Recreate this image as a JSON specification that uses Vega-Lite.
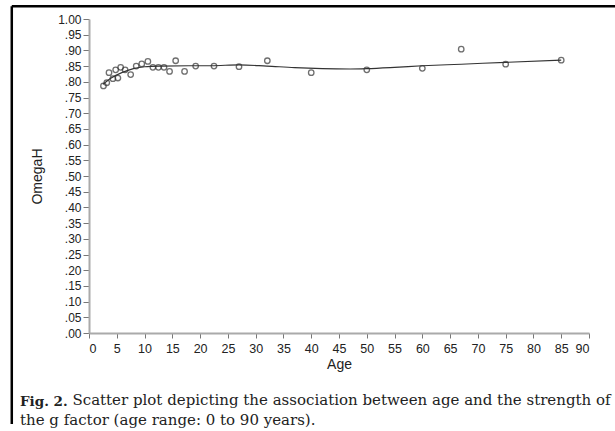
{
  "$schema": "https://vega.github.io/schema/vega-lite/v6.json",
  "width": 500,
  "height": 314,
  "autosize": {"type": "none"},
  "padding": {"left": 89, "top": 19, "right": 26, "bottom": 98},
  "background": "white",
  "config": {"view": {"stroke": null}},
  "title": {
    "text": "Fig. 2.",
    "subtitle": ["\u200b\u00a0\u00a0\u00a0\u00a0\u00a0\u00a0\u00a0\u00a0\u00a0\u00a0\u00a0Scatter plot depicting the association between age and the strength of", "the g factor (age range: 0 to 90 years)."],
    "orient": "bottom",
    "anchor": "start",
    "frame": "group",
    "dx": -69,
    "offset": -30,
    "font": "DejaVu Serif",
    "fontSize": 13.5,
    "fontWeight": "bold",
    "color": "#222",
    "subtitleFont": "DejaVu Serif",
    "subtitleFontSize": 15,
    "subtitleColor": "#222",
    "subtitlePadding": -16,
    "subtitleLineHeight": 20
  },
  "datasets": {
    "pts": [
      {"age": 2.6, "omega": 0.787},
      {"age": 3.2, "omega": 0.797},
      {"age": 3.6, "omega": 0.829},
      {"age": 4.3, "omega": 0.81},
      {"age": 4.8, "omega": 0.838},
      {"age": 5.2, "omega": 0.812},
      {"age": 5.7, "omega": 0.846},
      {"age": 6.5, "omega": 0.838},
      {"age": 7.5, "omega": 0.823},
      {"age": 8.5, "omega": 0.85},
      {"age": 9.5, "omega": 0.857},
      {"age": 10.6, "omega": 0.865},
      {"age": 11.5, "omega": 0.846},
      {"age": 12.5, "omega": 0.846},
      {"age": 13.5, "omega": 0.846},
      {"age": 14.5, "omega": 0.833},
      {"age": 15.6, "omega": 0.867},
      {"age": 17.2, "omega": 0.833},
      {"age": 19.2, "omega": 0.85},
      {"age": 22.5, "omega": 0.85},
      {"age": 27.0, "omega": 0.848},
      {"age": 32.1, "omega": 0.867},
      {"age": 40, "omega": 0.829},
      {"age": 50, "omega": 0.838},
      {"age": 60, "omega": 0.843},
      {"age": 67, "omega": 0.904},
      {"age": 75, "omega": 0.856},
      {"age": 85, "omega": 0.869}
    ],
    "fit": [
      {"age": 2.5, "omega": 0.792},
      {"age": 4, "omega": 0.812},
      {"age": 6, "omega": 0.83},
      {"age": 8, "omega": 0.842},
      {"age": 10, "omega": 0.848},
      {"age": 13, "omega": 0.85},
      {"age": 18, "omega": 0.851},
      {"age": 22, "omega": 0.851},
      {"age": 27, "omega": 0.854},
      {"age": 32, "omega": 0.85},
      {"age": 37, "omega": 0.845},
      {"age": 42, "omega": 0.842},
      {"age": 47, "omega": 0.841},
      {"age": 50, "omega": 0.842},
      {"age": 55, "omega": 0.846},
      {"age": 60, "omega": 0.851},
      {"age": 67, "omega": 0.856},
      {"age": 75, "omega": 0.862},
      {"age": 85, "omega": 0.869}
    ],
    "frame": [
      {"x1": -13.9, "x2": 95.5, "y1": 1.041, "y2": -0.29}
    ]
  },
  "encoding": {
    "x": {
      "field": "age", "type": "quantitative",
      "scale": {"domain": [0, 90], "nice": false, "zero": false},
      "axis": {
        "values": [0,5,10,15,20,25,30,35,40,45,50,55,60,65,70,75,80,85,90],
        "labelOverlap": false,
        "title": "Age", "grid": false,
        "labelFont": "Liberation Sans", "labelFontSize": 12.5, "labelColor": "#222",
        "labelPadding": 4,
        "titleFont": "Liberation Sans", "titleFontSize": 14, "titleFontWeight": "normal", "titleColor": "#222",
        "titlePadding": 3,
        "domainColor": "#aaa", "domainWidth": 2,
        "tickColor": "#777", "tickSize": 5, "tickWidth": 1
      }
    },
    "y": {
      "field": "omega", "type": "quantitative",
      "scale": {"domain": [0, 1], "nice": false, "zero": false},
      "axis": {
        "values": [0,0.05,0.1,0.15,0.2,0.25,0.3,0.35,0.4,0.45,0.5,0.55,0.6,0.65,0.7,0.75,0.8,0.85,0.9,0.95,1],
        "labelOverlap": false,
        "labelExpr": "datum.value >= 0.999 ? '1.00' : replace(format(datum.value, '.2f'), '0.', '.')",
        "title": "OmegaH", "grid": false,
        "labelFont": "Liberation Sans", "labelFontSize": 12, "labelColor": "#222",
        "labelPadding": 2,
        "titleFont": "Liberation Sans", "titleFontSize": 14, "titleFontWeight": "normal", "titleColor": "#222",
        "titlePadding": 13,
        "domainColor": "#aaa", "domainWidth": 2,
        "tickColor": "#777", "tickSize": 6, "tickWidth": 1
      }
    }
  },
  "layer": [
    {
      "data": {"name": "frame"},
      "mark": {"type": "rule", "color": "black", "strokeWidth": 2.5, "clip": false},
      "encoding": {
        "x": {"field": "x1", "type": "quantitative"},
        "y": {"field": "y1", "type": "quantitative"},
        "x2": {"field": "x2"}
      }
    },
    {
      "data": {"name": "frame"},
      "mark": {"type": "rule", "color": "black", "strokeWidth": 2.5, "clip": false},
      "encoding": {
        "x": {"field": "x1", "type": "quantitative"},
        "y": {"field": "y1", "type": "quantitative"},
        "y2": {"field": "y2"}
      }
    },
    {
      "data": {"name": "fit"},
      "mark": {"type": "line", "color": "#333", "strokeWidth": 1.1, "interpolate": "monotone"}
    },
    {
      "data": {"name": "pts"},
      "mark": {"type": "point", "shape": "circle", "filled": false, "color": "#333", "size": 30, "strokeWidth": 1.3}
    }
  ]
}
